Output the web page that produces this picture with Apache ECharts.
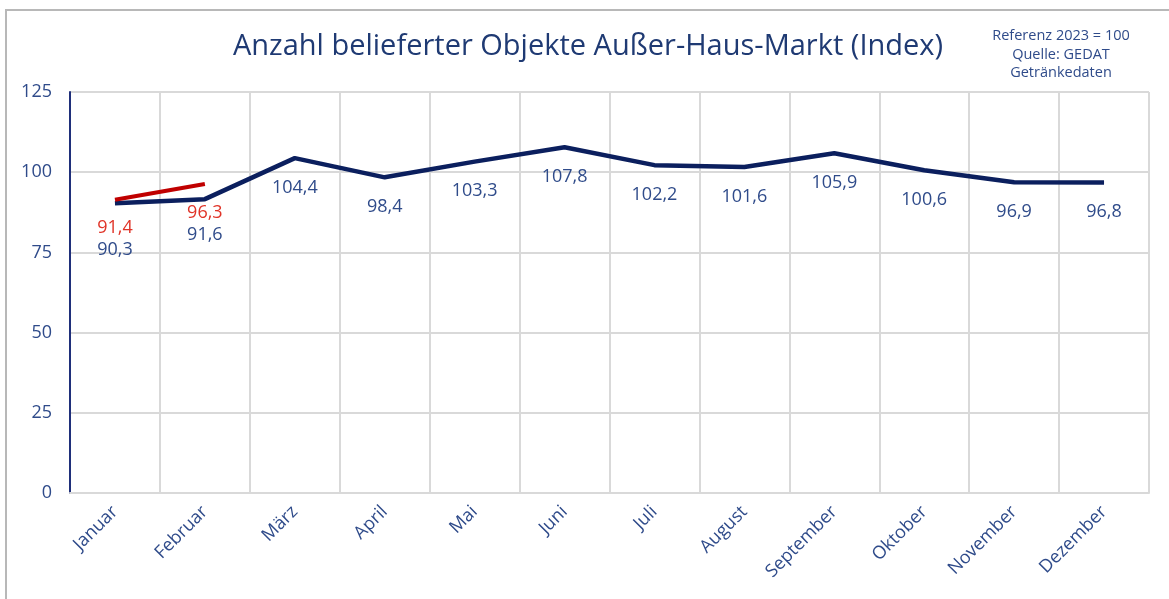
<!DOCTYPE html>
<html>
<head>
<meta charset="utf-8">
<script src="https://cdn.jsdelivr.net/npm/echarts@6/dist/echarts.min.js"></script>
<style>
  html, body { margin: 0; padding: 0; background: #fff; }
  #chart { width: 1169px; height: 599px; }
</style>
</head>
<body>
<div id="chart"></div>
<script>
const months = ["Januar", "Februar", "März", "April", "Mai", "Juni", "Juli", "August", "September", "Oktober", "November", "Dezember"];
const values2023 = [90.3, 91.6, 104.4, 98.4, 103.3, 107.8, 102.2, 101.6, 105.9, 100.6, 96.9, 96.8];
const values2024 = [91.4, 96.3];
const yTicks = [0, 25, 50, 75, 100, 125];

const fmt = (v) => String(v.toFixed(1)).replace(".", ",");
const textBlue = "#2f4b8a";
const baseDist = 20;

const chart = echarts.init(document.getElementById("chart"));

// first two blue labels sit lower so they don't collide with the red ones
const blueData = values2023.map((v, i) => {
  if (i === 0) return { value: v, label: { distance: baseDist + 17 } };
  if (i === 1) return { value: v, label: { distance: baseDist + 6 } };
  return v;
});

const option = {
  animation: false,
  textStyle: { fontFamily: "Open Sans" },
  graphic: [
    {
      type: "rect",
      shape: { x: 6, y: 10, width: 1300, height: 700 },
      style: { fill: "none", stroke: "#b8b8b8", lineWidth: 2 },
      silent: true
    },
    {
      type: "text",
      x: 588,
      y: 47,
      style: {
        text: "Anzahl belieferter Objekte Außer-Haus-Markt (Index)",
        fill: "#1f3a73",
        fontSize: 29,
        align: "center",
        verticalAlign: "middle",
        fontFamily: "Open Sans"
      }
    },
    {
      type: "text",
      x: 1061,
      y: 27,
      style: {
        text: "Referenz 2023 = 100\nQuelle: GEDAT\nGetränkedaten",
        fill: textBlue,
        fontSize: 14.5,
        lineHeight: 18.5,
        align: "center",
        fontFamily: "Open Sans"
      }
    }
  ],
  grid: {
    left: 70,
    right: 20,
    top: 92,
    bottom: 106,
    containLabel: false
  },
  xAxis: {
    type: "category",
    data: months,
    boundaryGap: true,
    axisLine: { show: true, lineStyle: { color: "#d9d9d9", width: 2 } },
    axisTick: { show: false },
    splitLine: { show: true, lineStyle: { color: "#d9d9d9", width: 2 } },
    axisLabel: {
      rotate: 45,
      interval: 0,
      margin: 16,
      color: textBlue,
      fontSize: 18,
      fontFamily: "Open Sans"
    }
  },
  yAxis: {
    type: "value",
    min: yTicks[0],
    max: yTicks[yTicks.length - 1],
    interval: 25,
    axisLine: { show: true, lineStyle: { color: "#1f2f7a", width: 2 } },
    axisTick: { show: false },
    splitLine: { show: true, lineStyle: { color: "#d9d9d9", width: 2 } },
    axisLabel: {
      margin: 18,
      color: textBlue,
      fontSize: 18,
      fontFamily: "Open Sans"
    }
  },
  series: [
    {
      name: "2023",
      type: "line",
      data: blueData,
      symbol: "circle",
      symbolSize: 1,
      showSymbol: true,
      itemStyle: { color: "rgba(0,0,0,0)", borderWidth: 0 },
      lineStyle: { color: "#0b1f5e", width: 4.5 },
      z: 3,
      label: {
        show: true,
        position: "bottom",
        distance: baseDist,
        color: textBlue,
        fontSize: 18,
        fontFamily: "Open Sans",
        formatter: (p) => fmt(p.value)
      }
    },
    {
      name: "2024",
      type: "line",
      data: values2024,
      symbol: "circle",
      symbolSize: 1,
      showSymbol: true,
      itemStyle: { color: "rgba(0,0,0,0)", borderWidth: 0 },
      lineStyle: { color: "#c00000", width: 4 },
      z: 4,
      label: {
        show: true,
        position: "bottom",
        distance: baseDist - 1,
        color: "#e03428",
        fontSize: 18,
        fontFamily: "Open Sans",
        formatter: (p) => fmt(p.value)
      }
    }
  ]
};

chart.setOption(option);
</script>
</body>
</html>
